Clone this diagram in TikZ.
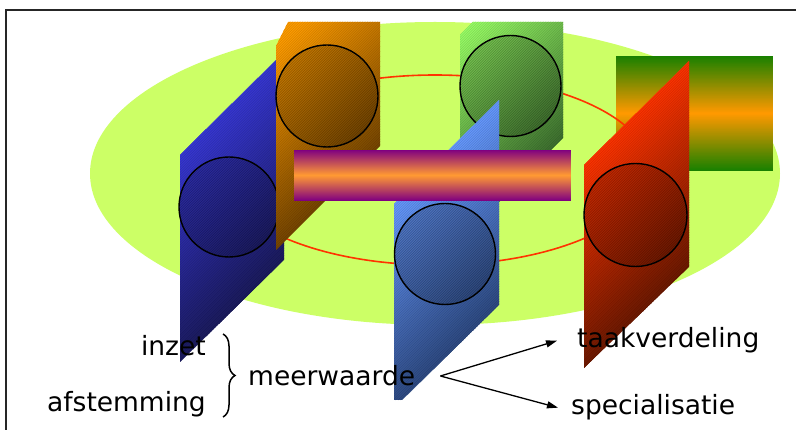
\documentclass[tikz,border=0pt]{standalone}
\usepackage{fontspec}
\setmainfont{DejaVu Sans}
\usetikzlibrary{arrows.meta,decorations.pathreplacing}

\definecolor{lime}{HTML}{CCFF66}
\definecolor{ring}{HTML}{FF3300}
\definecolor{barpurple}{HTML}{800080}
\definecolor{barorange}{HTML}{FF9933}
\definecolor{boxgreen}{HTML}{188000}
\definecolor{boxorange}{HTML}{FF9900}
% plate colours, upper-left and lower-right ends
\definecolor{dbA}{HTML}{3737D4}\definecolor{dbD}{HTML}{1A1A5C}
\definecolor{orA}{HTML}{FF9C00}\definecolor{orD}{HTML}{744400}
\definecolor{grA}{HTML}{99FF66}\definecolor{grD}{HTML}{3C6E2E}
\definecolor{lbA}{HTML}{6699FF}\definecolor{lbD}{HTML}{2C4880}
\definecolor{rdA}{HTML}{FF3300}\definecolor{rdD}{HTML}{6A1800}

\tikzset{
  discline/.style={draw=black, line width=1.4pt},
  word/.style={inner sep=0pt, font=\fontsize{26.5}{30}\selectfont},
  pointer/.style={line width=1.3pt, -{Triangle[length=11pt,width=7pt]}},
  bracket/.style={line width=1.5pt, decorate,
                  decoration={brace, amplitude=12pt}},
  framer/.style={line width=1.8pt, draw=black!85}
}

% slanted plate with a diagonal gradient and fine hatching, plus a darker disc
% #1 outline, #2/#3 end colours, #4/#5 range of x+y, #6/#7 disc centre, #8 radius
\newcommand{\plate}[8]{%
  \begin{scope}
    \clip #1;
    \foreach \i in {0,...,100} {
      \pgfmathsetmacro\c{#4-20+\i*2.5}
      \pgfmathtruncatemacro\p{max(0,min(100,(\c-#4)/(#5-#4)*100))}
      \fill[#3!\p!#2] (\c-400,400) -- (\c+100,-100) -- (\c+103,-100) -- (\c-397,400) -- cycle;
      \draw[#3!\p!#2!86!black, line width=0.5pt] (\c-400,400) -- (\c+100,-100);
    }
  \end{scope}
  \begin{scope}
    \clip (#6,#7) circle (#8);
    \foreach \i in {0,...,62} {
      \pgfmathsetmacro\c{#6+#7-78+\i*2.5}
      \pgfmathtruncatemacro\p{max(0,min(100,(\c-#4)/(#5-#4)*100))}
      \fill[#3!\p!#2!84!black] (\c-400,400) -- (\c+100,-100) -- (\c+103,-100) -- (\c-397,400) -- cycle;
      \draw[#3!\p!#2!62!black, line width=0.6pt] (\c-400,400) -- (\c+100,-100);
    }
  \end{scope}
  \draw[discline] (#6,#7) circle (#8);
}

\begin{document}
\begin{tikzpicture}[x=1pt,y=-1pt]
\useasboundingbox (0,0) rectangle (796,430);
\fill[white] (0,0) rectangle (796,430);

% slide frame
\draw[framer] (6,431) -- (6,10) -- (797,10);

% base disc
\fill[lime] (435,173.5) ellipse [x radius=345, y radius=151.5];

% striped box at the back right: green - orange - green
\foreach \i in {0,...,114} {
  \pgfmathtruncatemacro\p{abs(\i-57)/57*100}
  \fill[boxgreen!\p!boxorange] (616,56+\i) rectangle (773,57.3+\i);
}

% red ring joining the plates
\draw[ring, line width=1.6pt] (435,170) ellipse [x radius=215, y radius=95];

\begin{scope}
\clip (0,22) rectangle (796,430);
% dark blue plate
\plate{(180,155) -- (284,52) -- (284,260) -- (180,362) -- cycle}
  {dbA}{dbD}{335}{544}{229}{207}{50}
% orange plate
\plate{(276,250) -- (276,46) -- (288,22) -- (380,22) -- (380,146) -- cycle}
  {orA}{orD}{322}{526}{327}{96}{51}
% green plate
\plate{(460,241) -- (460,35) -- (473,22) -- (563,22) -- (563,138) -- cycle}
  {grA}{grD}{495}{701}{510.5}{86}{50.5}
% light blue plate
\plate{(394,204) -- (499,100) -- (499,305) -- (394,408) -- cycle}
  {lbA}{lbD}{598}{804}{445}{254}{50.5}
% red plate
\plate{(584,165) -- (689,61) -- (689,267) -- (584,368) -- cycle}
  {rdA}{rdD}{749}{956}{635.5}{215}{51.5}
\end{scope}

% cross bar in front: purple - orange - purple
\foreach \i in {0,...,50} {
  \pgfmathtruncatemacro\p{abs(\i-25)/25*100}
  \fill[barpurple!\p!barorange] (294,150+\i) rectangle (571,151.3+\i);
}

% labels
\node[word, anchor=base east] (inzet) at (206,356) {inzet};
\node[word, anchor=base east] (afst) at (206,412) {afstemming};
\node[word, anchor=base west] (meer) at (248,386) {meerwaarde};
\node[word, anchor=base west] (taak) at (577,348) {taakverdeling};
\node[word, anchor=base west] (spec) at (571,415) {specialisatie};

% brace grouping the two inputs
\coordinate (bracetop) at (223,334);
\coordinate (bracebot) at (223,417);
\draw[bracket] (bracetop) -- (bracebot);

% fork towards the two outcomes
\coordinate (fork) at ([xshift=25pt]meer.east |- 0,376);
\coordinate (taaktip) at ([xshift=-20pt]taak.west);
\coordinate (spectip) at ([xshift=-13pt]spec.west);
\draw[pointer] (fork) -- (taaktip);
\draw[pointer] (fork) -- (spectip);
\end{tikzpicture}
\end{document}
